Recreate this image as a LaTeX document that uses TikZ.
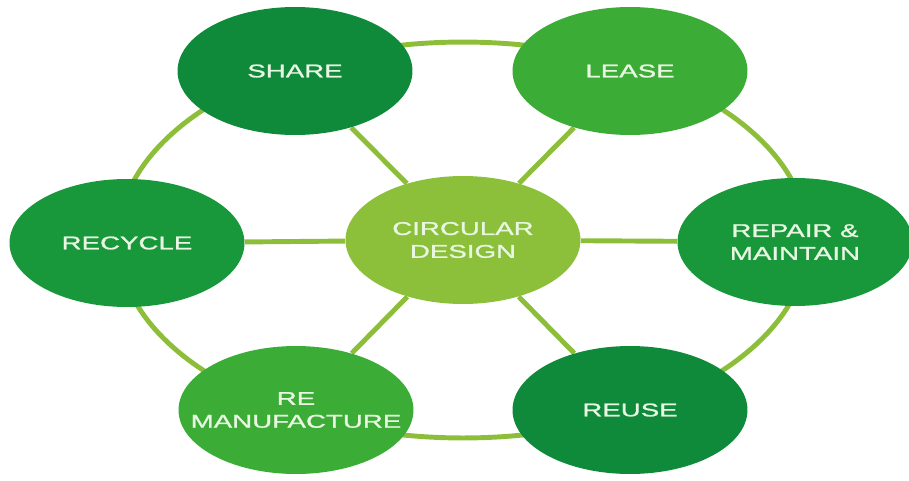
\documentclass[tikz,border=0pt]{standalone}
\usepackage{fontspec}
\newfontfamily\ovalfont[FakeStretch=1.5,FakeBold=1.2]{Liberation Sans}
\usetikzlibrary{shapes.geometric,backgrounds}
\definecolor{darkleaf}{RGB}{14,138,58}
\definecolor{midleaf}{RGB}{24,152,58}
\definecolor{lightleaf}{RGB}{59,172,53}
\definecolor{limeleaf}{RGB}{140,192,58}
\definecolor{ringline}{RGB}{141,190,58}
\definecolor{labeltext}{RGB}{232,246,226}
\def\ovalw{4.7cm}
\def\ovalh{2.56cm}

\begin{document}
\begin{tikzpicture}[x=0.02cm,y=-0.02cm]
		\tikzstyle{oval}=[ellipse,minimum width=\ovalw,minimum height=\ovalh,inner sep=0pt]
		\tikzstyle{dark oval}=[oval, fill=darkleaf];
		\tikzstyle{mid oval}=[oval, fill=midleaf];
		\tikzstyle{light oval}=[oval, fill=lightleaf];
		\tikzstyle{core oval}=[oval, fill=limeleaf];
		\tikzstyle{annot}=[text=labeltext,align=center,inner sep=0pt,font=\ovalfont\fontsize{10.5}{13}\selectfont]
		\tikzstyle{link}=[draw=ringline,line width=2.8pt]
		
		\useasboundingbox (0,0) rectangle (909,480);
		
		% Draw the centre node
		\node[core oval, label={[annot]center:CIRCULAR\\DESIGN}] (design) at (463,240) {};
		
		% Draw the outer nodes
		\node[dark oval, label={[annot]center:SHARE}] (share) at (295,71) {};
		\node[light oval, label={[annot]center:LEASE}] (lease) at (630,71) {};
		\node[mid oval, label={[annot]center:RECYCLE}] (recycle) at (127,243) {};
		\node[mid oval, label={[annot]center:REPAIR \&\\MAINTAIN}] (repair) at (795,242) {};
		\node[light oval, label={[annot]center:RE\\MANUFACTURE}] (reman) at (296,410) {};
		\node[dark oval, label={[annot]center:REUSE}] (reuse) at (630,410) {};
		
		% Ring and spokes behind the nodes
		\begin{scope}[on background layer]
		\path[link] (design.center) ellipse [x radius=6.9cm, y radius=3.96cm];
		\foreach \dest in {share,lease,recycle,repair,reman,reuse}
		\path[link] (design) -- (\dest);
		\end{scope}
	\end{tikzpicture}
\end{document}
